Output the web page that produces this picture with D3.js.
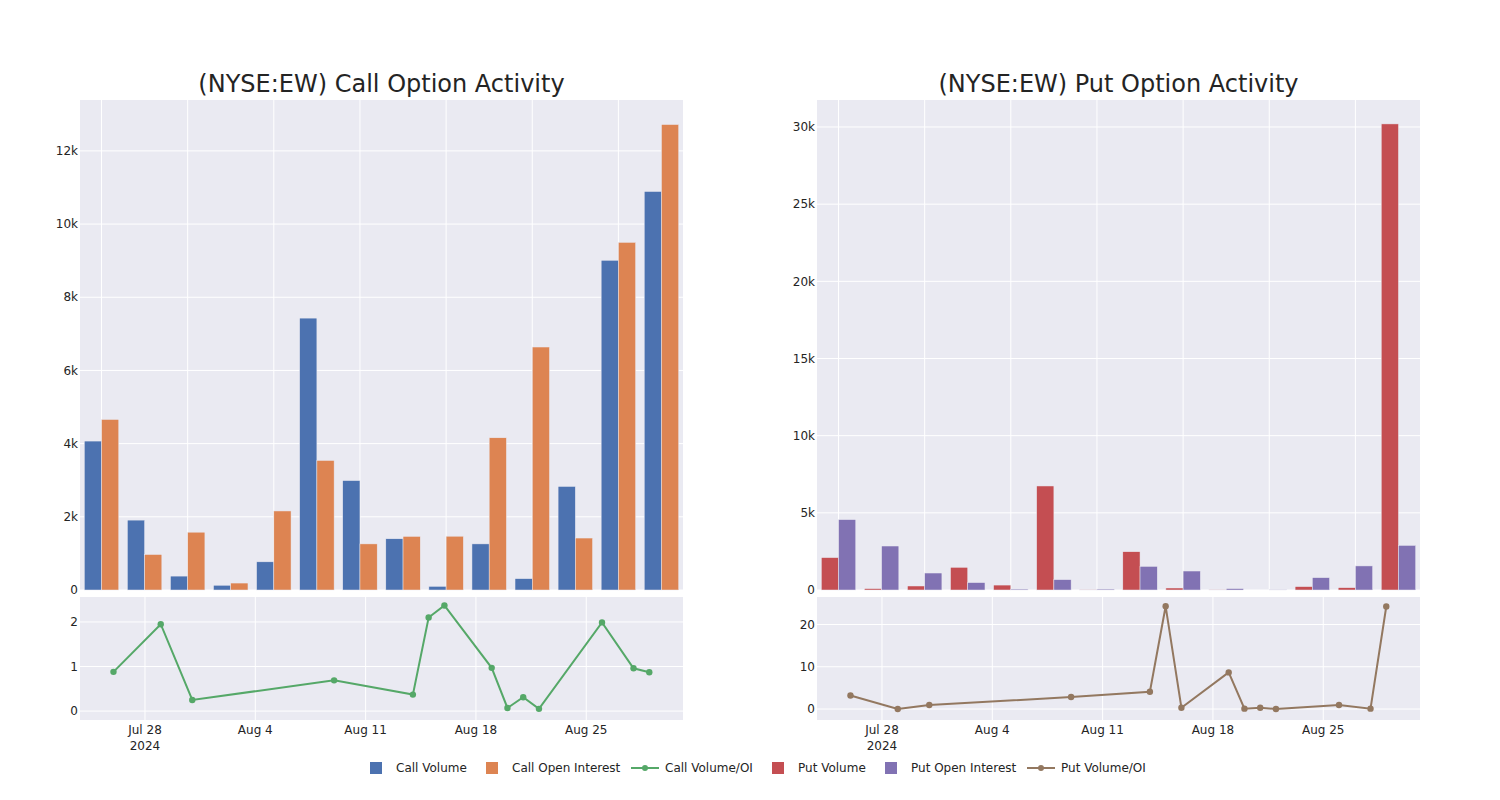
<!DOCTYPE html>
<html>
<head>
<meta charset="utf-8">
<script src="https://cdn.jsdelivr.net/npm/d3@7"></script>
<style>
  body { margin: 0; background: #fff; }
  svg { display: block; }
  text { font-family: "DejaVu Sans", sans-serif; fill: #242424; }
</style>
</head>
<body>
<svg id="chart" width="1500" height="800"></svg>
<script>
// ---------- data ----------
const dates = ["2024-07-26","2024-07-29","2024-07-31","2024-08-09","2024-08-14","2024-08-15","2024-08-16",
               "2024-08-19","2024-08-20","2024-08-21","2024-08-22","2024-08-26","2024-08-28","2024-08-29"];
const callVolume = [4070, 1910, 380, 130, 770, 7430, 2990, 1400, 100, 1260, 310, 2830, 9010, 10890];
const callOI     = [4660, 970, 1580, 190, 2160, 3540, 1260, 1465, 1470, 4160, 6640, 1420, 9500, 12720];
const callRatio  = [0.88, 1.95, 0.25, 0.69, 0.37, 2.10, 2.37, 0.97, 0.07, 0.31, 0.05, 1.99, 0.96, 0.87];
const putVolume  = [2100, 90, 260, 1470, 320, 6740, 20, 2480, 130, 20, 0, 220, 150, 30200];
const putOI      = [4560, 2850, 1100, 480, 60, 670, 60, 1530, 1230, 90, 20, 800, 1560, 2890];
const putRatio   = [3.2, 0.0, 0.94, 2.83, 4.09, 24.3, 0.31, 8.66, 0.08, 0.31, 0.0, 0.94, 0.08, 24.25];
const callTicks  = [0, 2000, 4000, 6000, 8000, 10000, 12000];
const putTicks   = [0, 5000, 10000, 15000, 20000, 25000, 30000];
const callRatioTicks = [0, 1, 2];
const putRatioTicks  = [0, 10, 20];
const titles = ["(NYSE:EW) Call Option Activity", "(NYSE:EW) Put Option Activity"];
const legendItems = [
  {label: "Call Volume", type: "bar", color: "#4C72B0"},
  {label: "Call Open Interest", type: "bar", color: "#DD8452"},
  {label: "Call Volume/OI", type: "line", color: "#55A868"},
  {label: "Put Volume", type: "bar", color: "#C44E52"},
  {label: "Put Open Interest", type: "bar", color: "#8172B3"},
  {label: "Put Volume/OI", type: "line", color: "#937860"}
];

// ---------- layout ----------
const svg = d3.select("#chart");
const BG = "#EAEAF2";
const topY = [100, 590], botY = [597, 720];
const panels = [
  {x0: 80, x1: 683, title: titles[0], a: callVolume, b: callOI, ratio: callRatio,
   ca: "#4C72B0", cb: "#DD8452", cl: "#55A868", yMax: 12720 * 1.0527, ticks: callTicks,
   rDomain: [-0.2, 2.56], rTicks: callRatioTicks},
  {x0: 817, x1: 1420, title: titles[1], a: putVolume, b: putOI, ratio: putRatio,
   ca: "#C44E52", cb: "#8172B3", cl: "#937860", yMax: 30200 * 1.0513, ticks: putTicks,
   rDomain: [-2.6, 26.5], rTicks: putRatioTicks}
];

const parse = d3.utcParse("%Y-%m-%d");
const dateObjs = dates.map(parse);
const DAY = 86400000;
const dDomain = [new Date(dateObjs[0].getTime() - 2.124 * DAY),
                 new Date(dateObjs[dateObjs.length - 1].getTime() + 2.14 * DAY)];
const kfmt = v => v === 0 ? "0" : (v / 1000) + "k";

panels.forEach(p => {
  const g = svg.append("g");
  g.append("text")
    .attr("x", (p.x0 + p.x1) / 2).attr("y", 92)
    .attr("text-anchor", "middle").style("font-size", "24px")
    .text(p.title);

  // ---- top bar chart ----
  g.append("rect").attr("x", p.x0).attr("y", topY[0])
    .attr("width", p.x1 - p.x0).attr("height", topY[1] - topY[0]).attr("fill", BG);
  const step = (p.x1 - p.x0) / dates.length;
  const xc = d3.scaleBand().domain(dates).range([p.x0, p.x1]).padding(0);
  const y = d3.scaleLinear().domain([0, p.yMax]).range([topY[1], topY[0]]);
  g.append("g").selectAll("line").data(p.ticks).join("line")
    .attr("x1", p.x0).attr("x2", p.x1).attr("y1", d => y(d)).attr("y2", d => y(d))
    .attr("stroke", "#fff").attr("stroke-width", 1);
  g.append("g").selectAll("line").data(dates.filter((d, i) => i % 2 === 0)).join("line")
    .attr("x1", d => xc(d) + step / 2).attr("x2", d => xc(d) + step / 2)
    .attr("y1", topY[0]).attr("y2", topY[1]).attr("stroke", "#fff").attr("stroke-width", 1);
  g.append("g").selectAll("text").data(p.ticks).join("text")
    .attr("x", p.x0 - 2).attr("y", d => y(d)).attr("dy", "0.35em")
    .attr("text-anchor", "end").style("font-size", "12px").text(kfmt);
  const bw = step * 0.8 / 2;
  const bars = g.append("g");
  dates.forEach((d, i) => {
    const cx = xc(d) + step / 2;
    [[p.a[i], p.ca, cx - bw], [p.b[i], p.cb, cx]].forEach(([v, c, bx]) => {
      bars.append("rect").attr("x", bx).attr("y", y(v))
        .attr("width", bw).attr("height", Math.max(0, topY[1] - y(v)))
        .attr("fill", c).attr("stroke", BG).attr("stroke-width", 0.5);
    });
  });

  // ---- bottom line chart ----
  g.append("rect").attr("x", p.x0).attr("y", botY[0])
    .attr("width", p.x1 - p.x0).attr("height", botY[1] - botY[0]).attr("fill", BG);
  const xd = d3.scaleUtc().domain(dDomain).range([p.x0, p.x1]);
  const yr = d3.scaleLinear().domain(p.rDomain).range([botY[1], botY[0]]);
  const weekTicks = d3.utcSunday.every(1).range(dDomain[0], dDomain[1]);
  g.append("g").selectAll("line").data(p.rTicks).join("line")
    .attr("x1", p.x0).attr("x2", p.x1).attr("y1", d => yr(d)).attr("y2", d => yr(d))
    .attr("stroke", "#fff").attr("stroke-width", 1);
  g.append("g").selectAll("line").data(weekTicks).join("line")
    .attr("x1", d => xd(d)).attr("x2", d => xd(d)).attr("y1", botY[0]).attr("y2", botY[1])
    .attr("stroke", "#fff").attr("stroke-width", 1);
  g.append("g").selectAll("text").data(p.rTicks).join("text")
    .attr("x", p.x0 - 2).attr("y", d => yr(d)).attr("dy", "0.35em")
    .attr("text-anchor", "end").style("font-size", "12px").text(d => d);
  const fmt = d3.utcFormat("%b %-d");
  const tl = g.append("g").selectAll("text").data(weekTicks).join("text")
    .attr("x", d => xd(d)).attr("y", 734)
    .attr("text-anchor", "middle").style("font-size", "12px");
  tl.append("tspan").attr("x", d => xd(d)).text(d => fmt(d));
  tl.filter((d, i) => i === 0).append("tspan").attr("x", d => xd(d)).attr("dy", 16).text("2024");
  const line = d3.line().x((d, i) => xd(dateObjs[i])).y(d => yr(d));
  g.append("path").datum(p.ratio).attr("d", line)
    .attr("fill", "none").attr("stroke", p.cl).attr("stroke-width", 2);
  g.append("g").selectAll("circle").data(p.ratio).join("circle")
    .attr("cx", (d, i) => xd(dateObjs[i])).attr("cy", d => yr(d)).attr("r", 3.2)
    .attr("fill", p.cl);
});

// ---------- legend ----------
const legX = [370, 486, 631, 772, 885, 1027];
const lg = svg.append("g");
legendItems.forEach((it, i) => {
  const gx = legX[i], gy = 768;
  if (it.type === "bar") {
    lg.append("rect").attr("x", gx).attr("y", gy - 6).attr("width", 12).attr("height", 12)
      .attr("fill", it.color);
    lg.append("text").attr("x", gx + 26).attr("y", gy).attr("dy", "0.35em")
      .style("font-size", "12px").text(it.label);
  } else {
    lg.append("line").attr("x1", gx).attr("x2", gx + 28).attr("y1", gy).attr("y2", gy)
      .attr("stroke", it.color).attr("stroke-width", 2);
    lg.append("circle").attr("cx", gx + 14).attr("cy", gy).attr("r", 3).attr("fill", it.color);
    lg.append("text").attr("x", gx + 34).attr("y", gy).attr("dy", "0.35em")
      .style("font-size", "12px").text(it.label);
  }
});
</script>
</body>
</html>
